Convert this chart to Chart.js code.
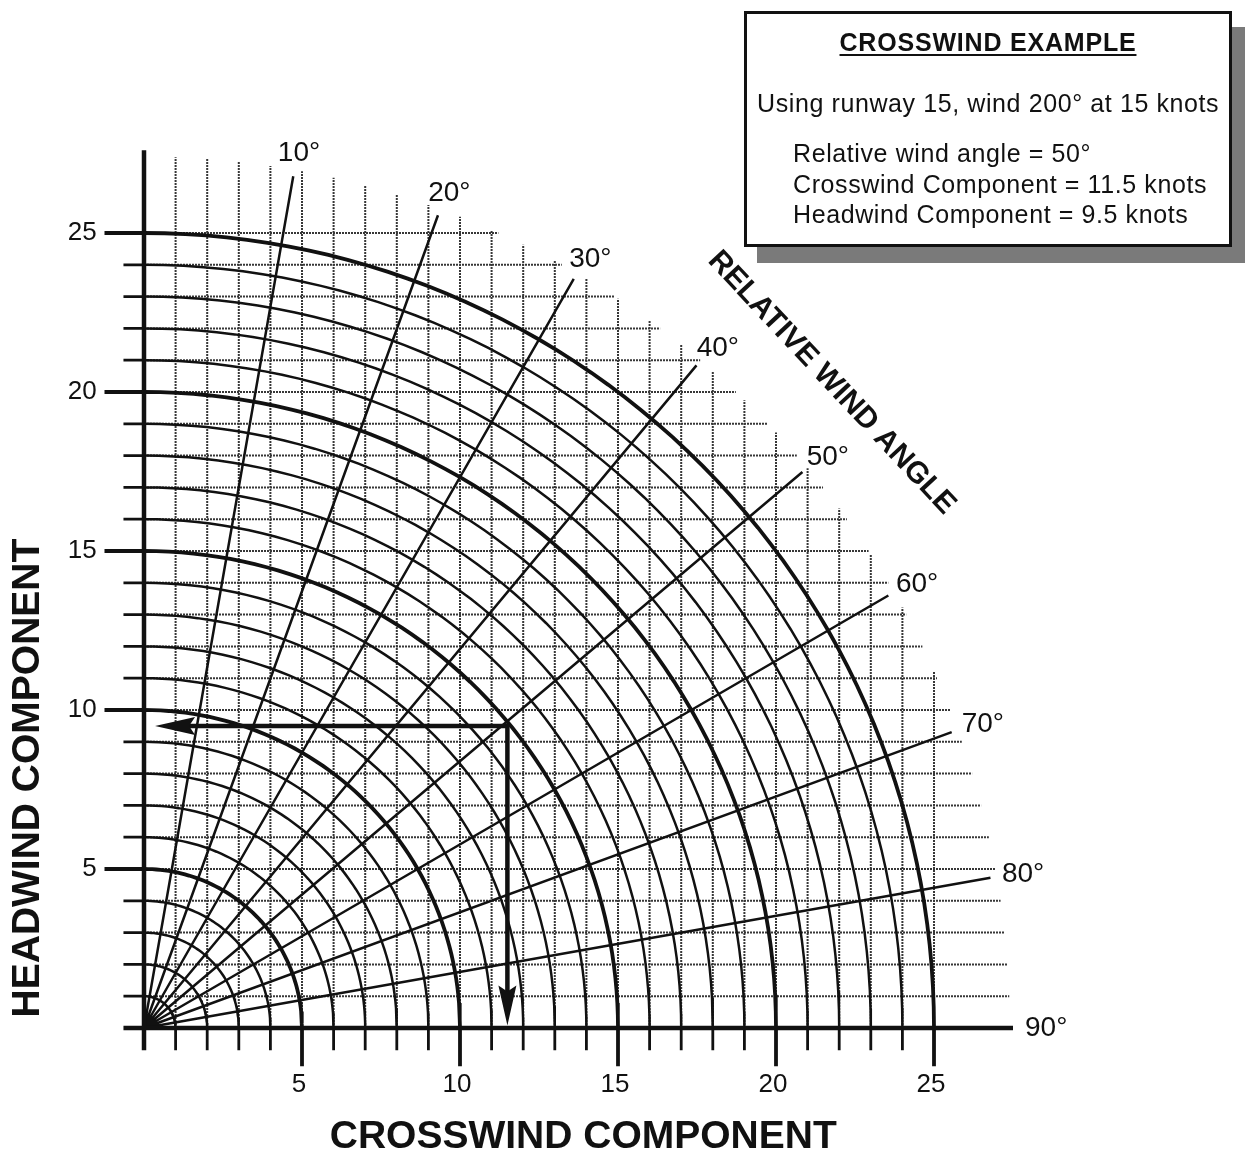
<!DOCTYPE html>
<html>
<head>
<meta charset="utf-8">
<title>Crosswind Component Chart</title>
<script src="https://cdn.jsdelivr.net/npm/chart.js@4.4.0/dist/chart.umd.min.js"></script>
<style>
  html, body { margin: 0; padding: 0; background: #fff; }
  #wrap { position: relative; width: 1247px; height: 1158px; overflow: hidden; }
  #box {
    position: absolute; left: 744px; top: 11px; width: 482px; height: 230px;
    border: 3px solid #111; background: #fff; box-shadow: 13px 16px 0 #7a7a7a;
    font-family: "Liberation Sans", Arial, sans-serif; color: #111;
  }
  #box div { position: absolute; white-space: nowrap; font-size: 25px; line-height: 30px; letter-spacing: 0.6px; }
  #box .title { left: 0; right: 0; top: 13px; text-align: center; font-weight: bold; text-decoration: underline; text-underline-offset: 3px; letter-spacing: 0.8px; }
  #box .line1 { left: 10px; top: 74px; }
  #box .lines { left: 46px; top: 124px; line-height: 30.5px; }
</style>
</head>
<body>
<div id="wrap">
  <canvas id="wind" width="1247" height="1158"></canvas>
  <div id="box">
    <div class="title">CROSSWIND EXAMPLE</div>
    <div class="line1" id="line1"></div>
    <div class="lines" id="lines"></div>
  </div>
</div>
<script>
// wind speed circles (knots) and relative wind angle spokes
const speeds = [1, 2, 3, 4, 5, 6, 7, 8, 9, 10, 11, 12, 13, 14, 15, 16, 17, 18, 19, 20, 21, 22, 23, 24, 25];
const majorSpeeds = [5, 10, 15, 20, 25];
const windAngles = [10, 20, 30, 40, 50, 60, 70, 80];
const angleLabels = ['10°', '20°', '30°', '40°', '50°', '60°', '70°', '80°', '90°'];
const labelAngles = [10, 20, 30, 40, 50, 60, 70, 80, 90];
const tickValues = [5, 10, 15, 20, 25];
const tickLabels = ['5', '10', '15', '20', '25'];

// the worked example
const exampleRunway = 15;
const exampleWindDir = 200;
const exampleWindSpeed = 15;
const exampleAngle = 50;
const exampleCrosswind = 11.5;
const exampleHeadwind = 9.5;

// layout
const X_MIN = -4.557, X_MAX = 34.905;
const Y_MIN = -4.088, Y_MAX = 32.327;
const GRID_R = 27.4;
const SPOKE_R = 27.2;
const FONT = '"Liberation Sans", Arial, Helvetica, sans-serif';

const rad = d => d * Math.PI / 180;
const GAP = { x: null, y: null };
const minorSpeeds = speeds.filter(s => !majorSpeeds.includes(s));

function arcPoints(list) {
  const pts = [];
  list.forEach(r => {
    for (let i = 0; i <= 60; i++) {
      const a = rad(i * 1.5);
      pts.push({ x: r * Math.sin(a), y: r * Math.cos(a) });
    }
    pts.push(GAP);
  });
  return pts;
}

// dotted grid, cut off in a rough staircase past the 25 knot circle
const gridPts = [];
speeds.forEach(k => {
  const edge = Math.sqrt(GRID_R * GRID_R - k * k);
  gridPts.push({ x: k, y: 0 }, { x: k, y: edge }, GAP);
  gridPts.push({ x: 0, y: k }, { x: edge, y: k }, GAP);
});

function tickPoints(list, len) {
  const pts = [];
  list.forEach(k => {
    pts.push({ x: k, y: 0 }, { x: k, y: -len[0] }, GAP);
    pts.push({ x: 0, y: k }, { x: -len[1], y: k }, GAP);
  });
  return pts;
}

const spokePts = [];
windAngles.forEach(a => {
  spokePts.push({ x: 0, y: 0 }, { x: SPOKE_R * Math.sin(rad(a)), y: SPOKE_R * Math.cos(rad(a)) }, GAP);
});

const axisPts = [
  { x: 0, y: -0.7 }, { x: 0, y: 27.6 }, GAP,
  { x: -0.65, y: 0 }, { x: 27.5, y: 0 }
];

const arrowPts = [
  { x: 1, y: exampleHeadwind },
  { x: exampleCrosswind, y: exampleHeadwind },
  { x: exampleCrosswind, y: 1 }
];

const ink = '#111';
function lineSet(data, width, extra) {
  return Object.assign({
    data, showLine: true, pointRadius: 0, borderColor: ink, borderWidth: width,
    borderCapStyle: 'butt', tension: 0, spanGaps: false, fill: false
  }, extra || {});
}

function arrowHead(ctx, tx, ty, dx, dy) {
  const L = 40, W = 9;
  const bx = tx - dx * L, by = ty - dy * L;
  ctx.beginPath();
  ctx.moveTo(tx, ty);
  ctx.lineTo(bx - dy * W, by + dx * W);
  ctx.lineTo(bx + dx * 6, by + dy * 6);
  ctx.lineTo(bx + dy * W, by - dx * W);
  ctx.closePath();
  ctx.fill();
}

const overlay = {
  id: 'overlay',
  afterDatasetsDraw(chart) {
    const { ctx } = chart;
    const sx = chart.scales.x, sy = chart.scales.y;
    const px = v => sx.getPixelForValue(v), py = v => sy.getPixelForValue(v);
    ctx.save();
    ctx.fillStyle = ink;

    arrowHead(ctx, px(0.35), py(exampleHeadwind), -1, 0);
    arrowHead(ctx, px(exampleCrosswind), py(0.08), 0, 1);

    // tick labels
    ctx.font = '26px ' + FONT;
    ctx.textBaseline = 'middle';
    ctx.textAlign = 'right';
    tickValues.forEach((v, i) => ctx.fillText(tickLabels[i], px(-1.5), py(v)));
    ctx.textAlign = 'center';
    tickValues.forEach((v, i) => ctx.fillText(tickLabels[i], px(v) - 3, py(-1.8)));

    // angle labels just past the ends of the spokes
    ctx.font = '28px ' + FONT;
    labelAngles.forEach((a, i) => {
      const s = Math.sin(rad(a)), c = Math.cos(rad(a));
      const r = a === 90 ? 27.5 : SPOKE_R;
      const w = ctx.measureText(angleLabels[i]).width;
      const gap = 12;
      const cx = px(r * s) + (gap + w / 2) * s;
      const cy = py(r * c) - (gap + 11) * c;
      ctx.fillText(angleLabels[i], cx, cy);
    });

    // axis titles
    ctx.font = 'bold 39px ' + FONT;
    ctx.fillText('CROSSWIND COMPONENT', px(13.9), py(-3.43));
    ctx.save();
    ctx.translate(px(-3.67), py(7.86));
    ctx.rotate(-Math.PI / 2);
    ctx.fillText('HEADWIND COMPONENT', 0, 0);
    ctx.restore();

    // curved-area title, tangent to the circles
    const ta = 47, tr = 29.75;
    ctx.save();
    ctx.translate(px(tr * Math.sin(rad(ta))), py(tr * Math.cos(rad(ta))));
    ctx.rotate(rad(ta));
    ctx.font = 'bold 30px ' + FONT;
    ctx.fillText('RELATIVE WIND ANGLE', 0, 0);
    ctx.restore();

    ctx.restore();
  }
};

new Chart(document.getElementById('wind'), {
  type: 'scatter',
  data: {
    datasets: [
      lineSet(arrowPts, 4.5, { borderJoinStyle: 'miter' }),
      lineSet(axisPts, 4.5),
      lineSet(arcPoints(majorSpeeds), 3.8),
      lineSet(tickPoints(majorSpeeds, [1.2, 1.25]), 3.8),
      lineSet(arcPoints(minorSpeeds), 2.5),
      lineSet(tickPoints(minorSpeeds, [0.7, 0.65]), 2.8),
      lineSet(spokePts, 2.5),
      lineSet(gridPts, 2, { borderColor: 'rgba(20,20,20,0.85)', borderDash: [2, 1] })
    ]
  },
  options: {
    responsive: false,
    animation: false,
    events: [],
    layout: { padding: 0 },
    scales: {
      x: { type: 'linear', min: X_MIN, max: X_MAX, display: false },
      y: { type: 'linear', min: Y_MIN, max: Y_MAX, display: false }
    },
    plugins: { legend: { display: false }, tooltip: { enabled: false } }
  },
  plugins: [overlay]
});

document.getElementById('line1').textContent =
  `Using runway ${exampleRunway}, wind ${exampleWindDir}° at ${exampleWindSpeed} knots`;
document.getElementById('lines').innerHTML =
  `Relative wind angle = ${exampleAngle}°<br>` +
  `Crosswind Component = ${exampleCrosswind} knots<br>` +
  `Headwind Component = ${exampleHeadwind} knots`;
</script>
</body>
</html>
